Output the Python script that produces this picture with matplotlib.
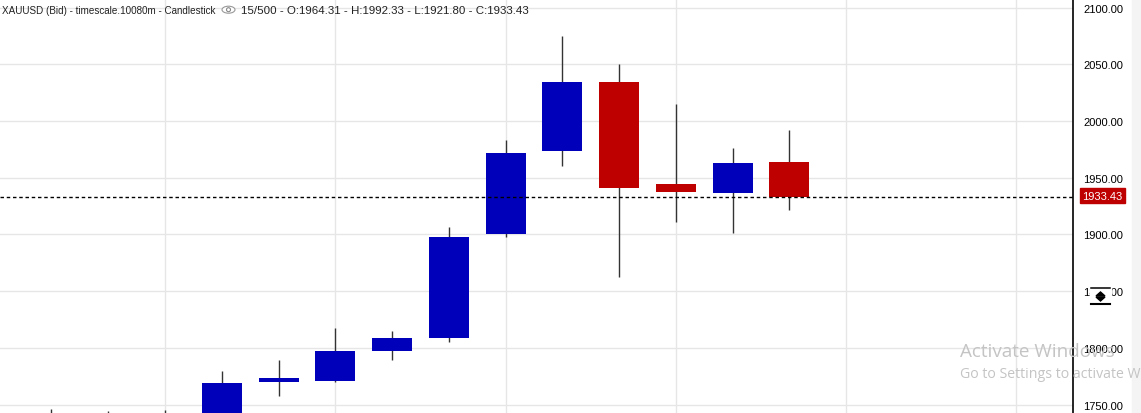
import matplotlib
matplotlib.use('Agg')
import matplotlib.pyplot as plt
from matplotlib.patches import Ellipse, Polygon, Rectangle

plt.rcParams['font.family'] = ['Liberation Sans', 'DejaVu Sans']

# weekly candles, the first three bodies are below the visible range
candle_no = [0, 1, 2, 3, 4, 5, 6, 7, 8, 9, 10, 11, 12, 13]
opens = [1725, 1722, 1724, 1743, 1770.2, 1771, 1797.5, 1809, 1900, 1974, 2034.7, 1944.8, 1936.9, 1964.31]
closes = [1715, 1718, 1716, 1769.3, 1773.7, 1797.5, 1809, 1898, 1972, 2034.7, 1941, 1937.7, 1963.3, 1933.43]
highs = [1746, 1744, 1745.5, 1780, 1789.6, 1817.8, 1815, 1906.9, 1983.6, 2075, 2050, 2015, 1976.5, 1992.33]
lows = [1700, 1702, 1698, 1742, 1757.9, 1770, 1789.6, 1805.5, 1898, 1960.7, 1862.8, 1911, 1901.6, 1921.8]

price_ticks = [1750, 1800, 1850, 1900, 1950, 2000, 2050, 2100]
grid_candles = [2, 5, 8, 11, 14, 17]
last_price = 1933.43

UP = '#0000bb'
DOWN = '#bf0000'
W, H = 1141, 414

fig = plt.figure(figsize=(W / 100, H / 100), dpi=100, facecolor='white')
# strip at the far right of the window
fig.patches.append(Rectangle((1132 / W, 0), 9 / W, 1, transform=fig.transFigure, color='#f4f4f4', zorder=0))

ax = fig.add_axes([0, 0, 1073 / W, 1])
ax.set_facecolor('white')
px_per_candle = 56.75
ax.set_xlim(-51.5 / px_per_candle, (1073 - 51.5) / px_per_candle)
ax.set_ylim(1742.6, 2107.6)

for s in ['top', 'left', 'bottom']:
    ax.spines[s].set_visible(False)
ax.spines['right'].set_color('black')
ax.spines['right'].set_linewidth(1.2)

ax.set_xticks(grid_candles)
ax.tick_params(axis='x', length=0, labelbottom=False)
ax.yaxis.tick_right()
ax.set_yticks(price_ticks)
ax.set_yticklabels(['%.2f' % p for p in price_ticks], fontsize=8, color='black')
ax.tick_params(axis='y', length=0, pad=7.5)
ax.grid(True, color='#e6e6e6', linewidth=1)
ax.set_axisbelow(True)

body_w = 40 / px_per_candle
for i, o, c, hi, lo in zip(candle_no, opens, closes, highs, lows):
    ax.plot([i, i], [lo, hi], color='#333333', linewidth=1, zorder=2, solid_capstyle='butt')
    col = UP if c >= o else DOWN
    ax.add_patch(Rectangle((i - body_w / 2, min(o, c)), body_w, abs(c - o), facecolor=col,
                           edgecolor='none', zorder=3))

ax.axhline(last_price, color='black', linewidth=1, linestyle=(0, (2.5, 2)), zorder=4)

# header
fig.text(2 / W, 1 - 10.5 / H, 'XAUUSD (Bid) - timescale.10080m - Candlestick', fontsize=7.1,
         color='#222222', va='center', ha='left')
fig.text(241 / W, 1 - 10.5 / H, '15/500 - O:1964.31 - H:1992.33 - L:1921.80 - C:1933.43', fontsize=8.25,
         color='#222222', va='center', ha='left')

# eye icon
fig.patches.append(Ellipse((228.5 / W, 1 - 10.7 / H), 13 / W, 7 / H, transform=fig.transFigure,
                           facecolor='white', edgecolor='#999999', linewidth=0.8))
fig.patches.append(Ellipse((228.5 / W, 1 - 10.7 / H), 4 / W, 4 / H, transform=fig.transFigure,
                           facecolor='white', edgecolor='#888888', linewidth=0.8))

# last price label
fig.patches.append(Rectangle((1080 / W, 1 - 204 / H), 45 / W, 15 / H, transform=fig.transFigure,
                             color=DOWN, zorder=5))
fig.text(1102.5 / W, 1 - 197 / H, '%.2f' % last_price, fontsize=8, color='white',
         ha='center', va='center', zorder=6)

# resize handle sitting on top of the 1850 label
fig.patches.append(Rectangle((1090 / W, 1 - 305 / H), 20.5 / W, 17 / H, transform=fig.transFigure,
                             color='white', zorder=7))
for yy, lw in [(288.5, 1.1), (304.7, 1.5)]:
    fig.add_artist(plt.Line2D([1090.5 / W, 1110 / W], [1 - yy / H, 1 - yy / H], color='black', linewidth=lw, zorder=8))
fig.patches.append(Polygon([(1096 / W, 1 - 297 / H), (1105 / W, 1 - 297 / H), (1100.5 / W, 1 - 293 / H)],
                           transform=fig.transFigure, color='black', zorder=8))
fig.patches.append(Polygon([(1096 / W, 1 - 298 / H), (1105 / W, 1 - 298 / H), (1100.5 / W, 1 - 302 / H)],
                           transform=fig.transFigure, color='black', zorder=8))

# windows watermark
fig.text(960 / W, 1 - 352 / H, 'Activate Windows', fontsize=13.6, color='#c4c4c4', va='center', ha='left', zorder=9,
         family=['Open Sans', 'DejaVu Sans'])
fig.text(960 / W, 1 - 375 / H, 'Go to Settings to activate Windows.', fontsize=10.2, color='#c4c4c4', va='center', ha='left',
         zorder=9, family=['Open Sans', 'DejaVu Sans'], clip_on=True)

fig.savefig('out.png', dpi=100)
